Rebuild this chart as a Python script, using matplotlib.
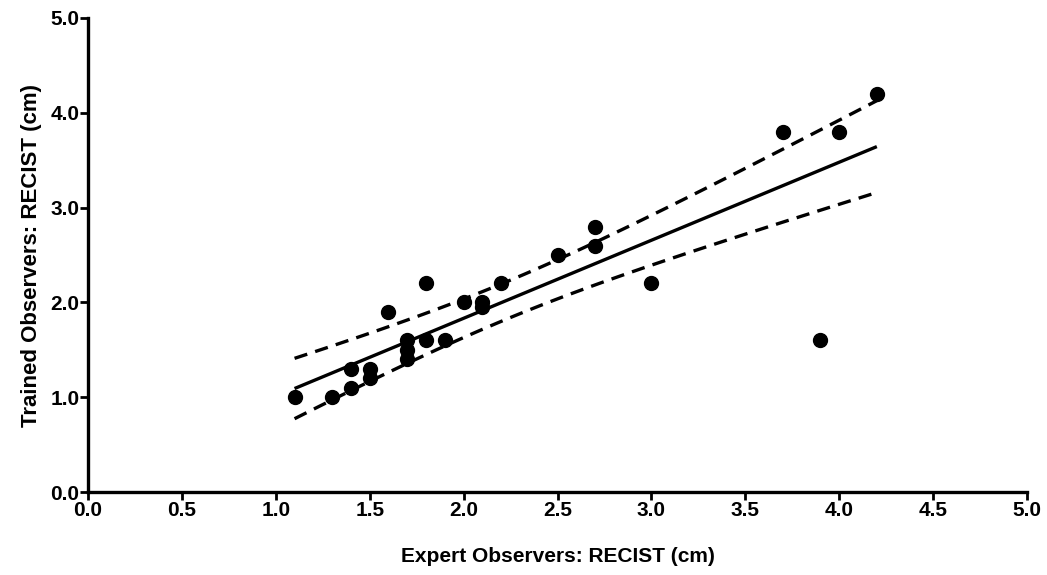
import matplotlib
matplotlib.use("Agg")
import matplotlib.pyplot as plt
import numpy as np

# Lesiones: medida RECIST (cm), expertos vs observadores entrenados
expert = [1.1, 1.3, 1.4, 1.4, 1.5, 1.5, 1.6, 1.7, 1.7, 1.7, 1.8, 1.8, 1.9,
          2.0, 2.1, 2.1, 2.2, 2.5, 2.7, 2.7, 3.0, 3.7, 3.9, 4.0, 4.2]
trained = [1.0, 1.0, 1.3, 1.1, 1.3, 1.2, 1.9, 1.6, 1.5, 1.4, 2.2, 1.6, 1.6,
           2.0, 2.0, 1.95, 2.2, 2.5, 2.8, 2.6, 2.2, 3.8, 1.6, 3.8, 4.2]

x_ticks = [0.0, 0.5, 1.0, 1.5, 2.0, 2.5, 3.0, 3.5, 4.0, 4.5, 5.0]
y_ticks = [0.0, 1.0, 2.0, 3.0, 4.0, 5.0]

x = np.array(expert)
y = np.array(trained)
n = len(x)
b1, b0 = np.polyfit(x, y, 1)
xs = np.linspace(x.min(), x.max(), 100)
fit = b0 + b1 * xs
resid = y - (b0 + b1 * x)
s = np.sqrt(np.sum(resid ** 2) / (n - 2))
se = s * np.sqrt(1 / n + (xs - x.mean()) ** 2 / np.sum((x - x.mean()) ** 2))
t = 2.069  # t(0.975, 23)

plt.rcParams["font.family"] = ["Liberation Sans", "DejaVu Sans"]

fig = plt.figure(figsize=(10.47, 5.75), dpi=100)
ax = fig.add_axes([0.084, 0.144, 0.897, 0.825])

ax.plot(xs, fit, color="black", lw=2.4, solid_capstyle="butt")
ax.plot(xs, fit + t * se, color="black", lw=2.4, dashes=(4, 2.5))
ax.plot(xs, fit - t * se, color="black", lw=2.4, dashes=(4, 2.5))
ax.scatter(x, y, s=100, color="black", zorder=3)

ax.set_xlim(0, 5)
ax.set_ylim(0, 5)
ax.set_xticks(x_ticks)
ax.set_yticks(y_ticks)
ax.set_xticklabels([f"{v:.1f}" for v in x_ticks], fontsize=15, fontweight="bold")
ax.set_yticklabels([f"{v:.1f}" for v in y_ticks], fontsize=15, fontweight="bold")
ax.tick_params(direction="out", length=6, width=2, pad=0)
for side in ("top", "right"):
    ax.spines[side].set_visible(False)
for side in ("left", "bottom"):
    ax.spines[side].set_linewidth(2.4)

ax.set_xlabel("Expert Observers: RECIST (cm)", fontsize=15, fontweight="bold", labelpad=20)
ax.set_ylabel("Trained Observers: RECIST (cm)", fontsize=16, fontweight="bold", labelpad=6)

fig.savefig("out.png", dpi=100)
